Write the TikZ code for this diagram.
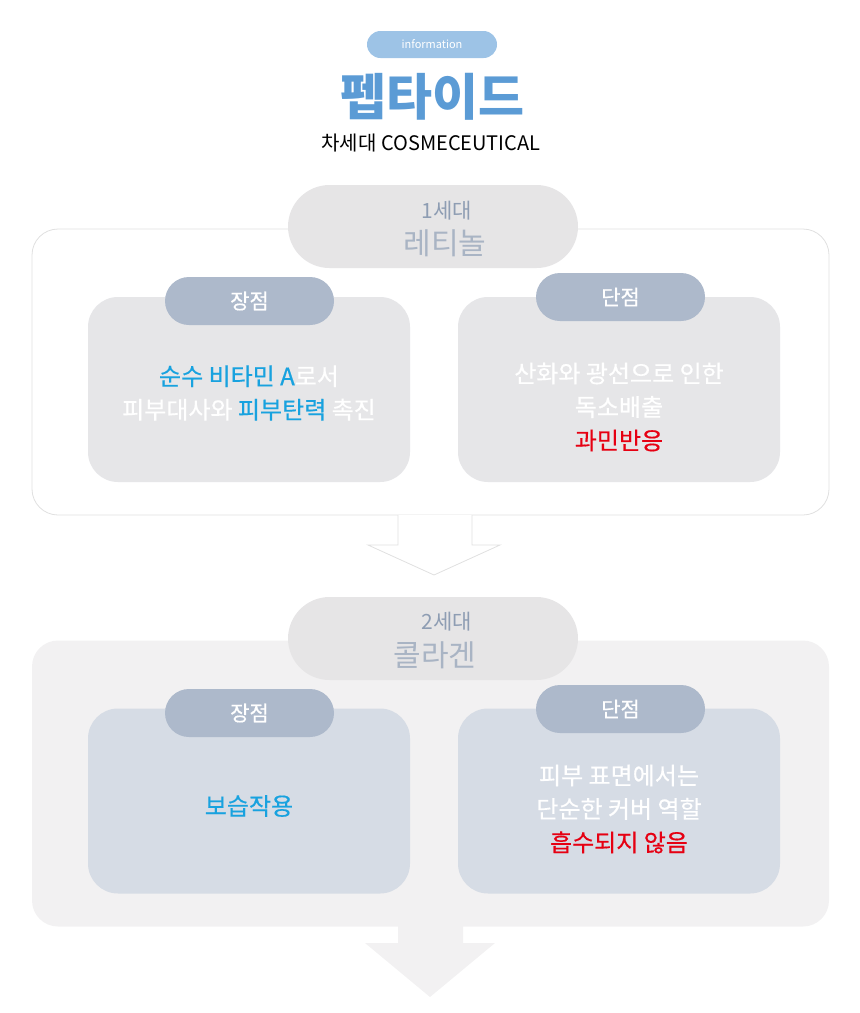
\documentclass[tikz,border=0pt]{standalone}
\usepackage{fontspec}
\usepackage{tikz}
\usetikzlibrary{positioning}
\newfontfamily\kr{Noto Sans CJK KR}
\newfontfamily\krm{Noto Sans CJK KR}[FakeBold=0.5]
\definecolor{infoblue}{HTML}{9DC3E6}
\definecolor{titleblue}{HTML}{5B9BD5}
\definecolor{genfill}{HTML}{E6E5E6}
\definecolor{gentop}{HTML}{8E9DB3}
\definecolor{genname}{HTML}{A9B4C4}
\definecolor{tagfill}{HTML}{ADB9CB}
\definecolor{cardone}{HTML}{E6E6E8}
\definecolor{cardtwo}{HTML}{D6DCE5}
\definecolor{paneltwo}{HTML}{F2F1F2}
\definecolor{panelline}{HTML}{E0E0E0}
\definecolor{hiblue}{HTML}{18A2DF}
\definecolor{hired}{HTML}{E60012}
\tikzset{panel/.style = {rounded corners = 26pt, minimum width = 797pt, minimum height = 286pt, inner sep = 0}}
\tikzset{genpill/.style = {fill = genfill, rounded corners = 41.5pt, minimum width = 290pt, minimum height = 83pt, inner sep = 0}}
\tikzset{card/.style = {rounded corners = 30pt, minimum width = 322pt, minimum height = 185pt, inner sep = 0}}
\tikzset{tag/.style = {fill = tagfill, rounded corners = 24pt, minimum width = 169pt, minimum height = 48pt, inner sep = 0, text = white, font = \krm\fontsize{21}{21}\selectfont}}
\tikzset{cardtext/.style = {align = center, text = white, font = \krm\fontsize{24}{33.5}\selectfont}}
\tikzset{gentxt/.style = {inner sep = 0, font = \kr\fontsize{21}{21}\selectfont, text = gentop}}
\tikzset{genbig/.style = {inner sep = 0, font = \kr\fontsize{30}{30}\selectfont, text = genname}}

\begin{document}
\begin{tikzpicture}[x = 1pt, y = -1pt]
      \useasboundingbox (0, 0) rectangle (860, 1013);
      \node [fill = infoblue, rounded corners = 13.5pt, minimum width = 130pt, minimum height = 27pt, inner sep = 0, text = white, font = \kr\fontsize{11}{11}\selectfont] (info) at (432, 44.5) {information};
      \node [text = titleblue, inner sep = 0, font = \kr\bfseries\fontsize{50}{50}\selectfont] (title) at (432, 97) {펩타이드};
      \node [inner sep = 0, font = \kr\fontsize{20}{20}\selectfont] (subtitle) at (431, 143) {차세대 COSMECEUTICAL};

      \node [panel, fill = white, draw = panelline, line width = 0.8pt] (gen1) at (430.5, 372) {};
      \node [panel, fill = paneltwo] (gen2) at (430.5, 783.5) {};

      \filldraw [fill = white, draw = panelline, line width = 0.8pt] (398, 515) -- (398, 545) -- (368, 545) -- (434, 575) -- (500, 545) -- (472, 545) -- (472, 515);
      \fill [paneltwo] (398, 920) -- (398, 943) -- (365, 943) -- (430, 997) -- (495, 943) -- (463, 943) -- (463, 920) -- cycle;

      \node [genpill] (pill1) at (433, 226.5) {};
      \node [gentxt] (pill1top) at (447, 211) {1세대};
      \node [genbig] (pill1name) at (445, 243) {레티놀};
      \node [card, fill = cardone] (pro1) at (249, 389.5) {};
      \node [card, fill = cardone] (con1) at (619, 389.5) {};
      \node [tag] (pro1tag) at (249.5, 301) {장점};
      \node [tag] (con1tag) at (620.5, 297) {단점};
      \node [cardtext] (pro1txt) at (249, 393) {\textcolor{hiblue}{순수 비타민 A}로서\\피부대사와 \textcolor{hiblue}{피부탄력} 촉진};
      \node [cardtext] (con1txt) at (619, 407) {산화와 광선으로 인한\\독소배출\\\textcolor{hired}{과민반응}};

      \node [genpill] (pill2) at (433, 638.5) {};
      \node [gentxt] (pill2top) at (447, 622) {2세대};
      \node [genbig] (pill2name) at (435, 655) {콜라겐};
      \node [card, fill = cardtwo] (pro2) at (249, 801) {};
      \node [card, fill = cardtwo] (con2) at (619, 801) {};
      \node [tag] (pro2tag) at (249.5, 713) {장점};
      \node [tag] (con2tag) at (620.5, 709) {단점};
      \node [cardtext] (pro2txt) at (249, 806) {\textcolor{hiblue}{보습작용}};
      \node [cardtext] (con2txt) at (619, 809) {피부 표면에서는\\단순한 커버 역할\\\textcolor{hired}{흡수되지 않음}};
    \end{tikzpicture}
\end{document}
